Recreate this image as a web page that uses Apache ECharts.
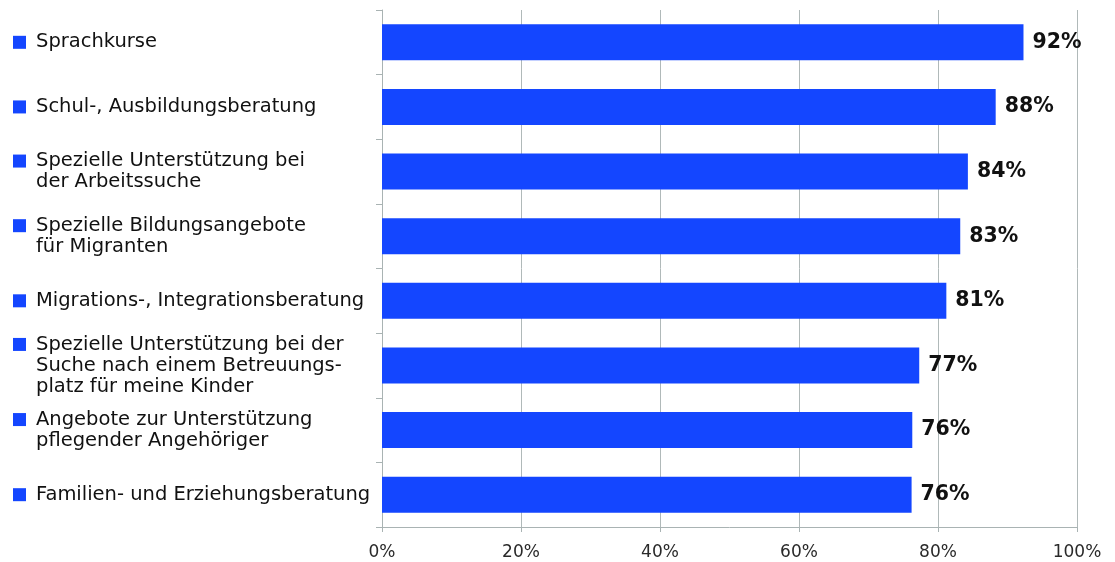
<!DOCTYPE html>
<html><head><meta charset="utf-8">
<script src="https://cdn.jsdelivr.net/npm/echarts@6/dist/echarts.min.js"></script>
<style>html,body{margin:0;padding:0;background:#fff}#c{width:1115px;height:562px}</style>
</head><body><div id="c"></div>
<script>
var categories = [
  ["Sprachkurse"],
  ["Schul-, Ausbildungsberatung"],
  ["Spezielle Unterstützung bei", "der Arbeitssuche"],
  ["Spezielle Bildungsangebote", "für Migranten"],
  ["Migrations-, Integrationsberatung"],
  ["Spezielle Unterstützung bei der", "Suche nach einem Betreuungs-", "platz für meine Kinder"],
  ["Angebote zur Unterstützung", "pflegender Angehöriger"],
  ["Familien- und Erziehungsberatung"]
];
var values = [92.3, 88.3, 84.3, 83.2, 81.2, 77.3, 76.3, 76.2];
var xTicks = [0, 20, 40, 60, 80, 100];

var catNames = categories.map(function(c){ return c.join("\n"); });
var chart = echarts.init(document.getElementById('c'));
chart.setOption({
  animation: false,
  grid: { left: 382, right: 38, top: 10, bottom: 35, containLabel: false },
  xAxis: {
    type: 'value', min: 0, max: 100, interval: 20,
    axisLine: { show: true, lineStyle: { color: '#a9b3b3', width: 1 } },
    axisTick: { show: true, length: 5, lineStyle: { color: '#a9b3b3' } },
    splitLine: { show: true, lineStyle: { color: '#b0b9b9', width: 1 } },
    axisLabel: { formatter: function(v){ return xTicks.indexOf(v) >= 0 ? v + '%' : ''; },
      color: '#2a2a2a', fontFamily: 'DejaVu Sans', fontSize: 17, margin: 17 }
  },
  yAxis: {
    type: 'category', inverse: true, data: catNames,
    axisLine: { show: true, lineStyle: { color: '#a9b3b3', width: 1 } },
    axisTick: { show: true, length: 6, lineStyle: { color: '#a9b3b3' } },
    splitLine: { show: false },
    axisLabel: {
      align: 'left', margin: 369,
      formatter: function(v){
        var lines = v.split("\n");
        return lines.map(function(l, i){ return (i === 0 ? '{sq|}' : '{sp|}') + '{t|' + l + '}'; }).join("\n");
      },
      rich: {
        sq: { width: 13, height: 13, backgroundColor: '#1446ff' },
        sp: { width: 13, height: 13 },
        t: { fontFamily: 'DejaVu Sans', fontSize: 19.5, color: '#111', lineHeight: 21, padding: [0, 0, 0, 10] }
      }
    }
  },
  series: [{
    type: 'bar', data: values, barWidth: 36,
    itemStyle: { color: '#1446ff' },
    label: { show: true, position: 'right', distance: 9,
      formatter: function(p){ return Math.round(p.value) + '%'; },
      fontFamily: 'DejaVu Sans', fontWeight: 'bold', fontSize: 20.5, color: '#111' }
  }]
});
</script></body></html>
